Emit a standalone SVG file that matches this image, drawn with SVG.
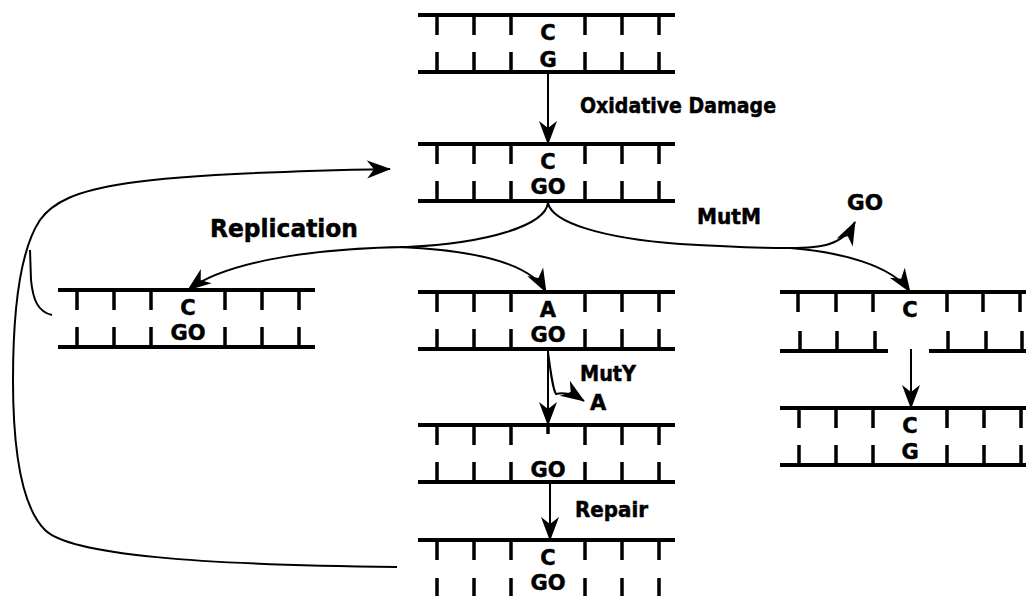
<svg xmlns="http://www.w3.org/2000/svg" width="1026" height="596" viewBox="0 0 1026 596">
<style>
.strand{stroke:#000;stroke-width:4;fill:none}
.tick{stroke:#000;stroke-width:3.5;fill:none}
.base{font-family:"DejaVu Sans",Verdana,sans-serif;font-weight:bold;font-size:21px;fill:#000;stroke:#000;stroke-width:0.5;text-anchor:middle}
.lbl{font-family:"DejaVu Sans",Verdana,sans-serif;font-weight:bold;font-size:21px;fill:#000;stroke:#000;stroke-width:0.5}
.conn{stroke:#000;stroke-width:2;fill:none}
.arr{marker-end:url(#ah)}
</style>
<defs>
<marker id="ah" markerUnits="userSpaceOnUse" markerWidth="26" markerHeight="20" refX="23" refY="9" orient="auto" viewBox="0 0 26 18">
<path d="M0,0 L24,9 L0,18 L7,9 Z" fill="#000"/>
</marker>
<g id="ladder">
<path class="strand" d="M0,0 H257 M0,57 H257"/>
<path class="tick" d="M19,0 V20 M56,0 V20 M93,0 V20 M167,0 V20 M204,0 V20 M241,0 V20 M19,37 V57 M56,37 V57 M93,37 V57 M167,37 V57 M204,37 V57 M241,37 V57"/>
</g>
</defs>
<rect width="1026" height="596" fill="#fff"/>

<g id="dna-top" transform="translate(418,15)">
<use href="#ladder"/>
<text class="base" x="130" y="25">C</text>
<text class="base" x="130" y="52">G</text>
</g>

<g id="dna-damaged" transform="translate(418,144)">
<use href="#ladder"/>
<text class="base" x="130" y="25">C</text>
<text class="base" x="130" y="50">GO</text>
</g>

<g id="dna-left" transform="translate(58,290)">
<use href="#ladder"/>
<text class="base" x="130" y="25">C</text>
<text class="base" x="130" y="50">GO</text>
</g>

<g id="dna-center" transform="translate(418,292)">
<use href="#ladder"/>
<text class="base" x="130" y="25">A</text>
<text class="base" x="130" y="50">GO</text>
</g>

<g id="dna-right-nicked" transform="translate(780,292)">
<path class="strand" d="M0,0 H257 M0,59 H108 M149,59 H257"/>
<path class="tick" d="M18,0 V20 M56,0 V20 M93,0 V20 M167,0 V20 M203,0 V20 M240,0 V20 M20,39 V59 M57,39 V59 M95,39 V59 M168,39 V59 M206,39 V59 M242,39 V59"/>
<text class="base" x="130" y="25">C</text>
</g>

<g id="dna-right-repaired" transform="translate(780,408)">
<use href="#ladder"/>
<text class="base" x="130" y="25">C</text>
<text class="base" x="130" y="51">G</text>
</g>

<g id="dna-gap" transform="translate(418,425)">
<use href="#ladder"/>
<path class="tick" d="M130,0 V9"/>
<text class="base" x="130" y="52">GO</text>
</g>

<g id="dna-bottom" transform="translate(418,540)">
<path class="strand" d="M0,0 H257"/>
<path class="tick" d="M19,0 V20 M56,0 V20 M93,0 V20 M167,0 V20 M204,0 V20 M241,0 V20 M19,38 V60 M56,38 V60 M93,38 V60 M167,38 V60 M204,38 V60 M241,38 V60"/>
<text class="base" x="130" y="25">C</text>
<text class="base" x="130" y="50">GO</text>
</g>

<g id="connectors">
<path class="conn arr" d="M548,72 V144"/>
<path class="conn" d="M548,203 C545,225 490,243 407,247"/>
<path class="conn arr" d="M407,247 C330,248 230,258 188,290"/>
<path class="conn arr" d="M400,247 C470,250 530,262 546,292"/>
<path class="conn" d="M548,203 C552,222 600,238 680,244 C730,247 770,248 790,248"/>
<path class="conn arr" d="M790,248 C820,248 843,246 855,222"/>
<path class="conn arr" d="M790,248 C840,252 892,265 910,292"/>
<path class="conn arr" d="M911,349 V408"/>
<path class="conn arr" d="M548,350 V425"/>
<path class="conn arr" d="M548,352 C551,375 553,390 556,394 C565,392 575,395 584,401"/>
<path class="conn arr" d="M550,483 V540"/>
<path class="conn arr" d="M397,567 C200,565 70,555 45,530 C15,500 13,420 13,380 C13,310 20,250 40,220 C65,185 130,174 390,169"/>
<path class="conn" d="M52,315 C38,312 33,300 31,280 L30,250"/>
</g>

<g id="labels">
<text class="lbl" x="580" y="113" textLength="196" lengthAdjust="spacingAndGlyphs">Oxidative Damage</text>
<text class="lbl" x="210" y="237" style="font-size:24px" textLength="148" lengthAdjust="spacingAndGlyphs">Replication</text>
<text class="lbl" x="697" y="224" textLength="64" lengthAdjust="spacingAndGlyphs">MutM</text>
<text class="lbl" x="847" y="210" textLength="36" lengthAdjust="spacingAndGlyphs">GO</text>
<text class="lbl" x="580" y="381" textLength="56" lengthAdjust="spacingAndGlyphs">MutY</text>
<text class="lbl" x="590" y="410">A</text>
<text class="lbl" x="575" y="517" textLength="73" lengthAdjust="spacingAndGlyphs">Repair</text>
</g>
</svg>
